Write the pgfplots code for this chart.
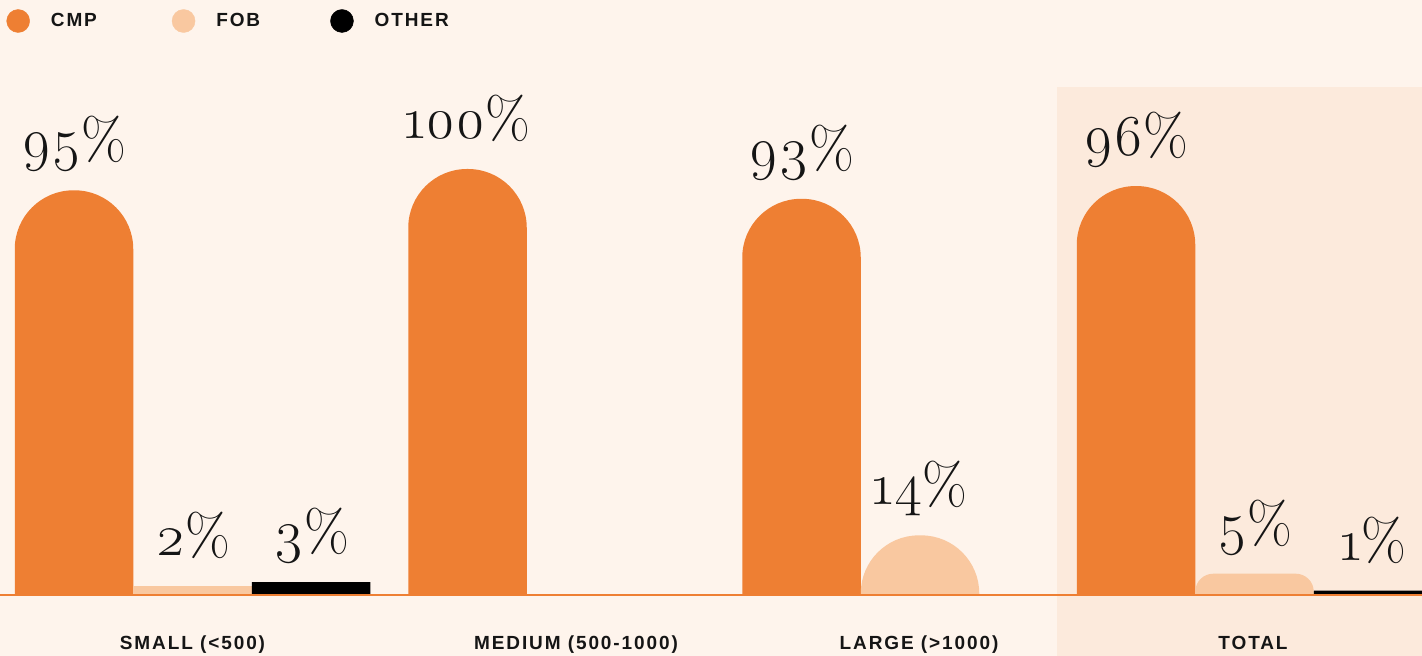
\documentclass[border=0pt]{standalone}
\usepackage{fontspec}
\usepackage{pgfplots}
\usepackage{pgfplotstable}
\pgfplotsset{compat=1.18}
\newfontfamily\valfont{Latin Modern Roman}[Numbers=OldStyle]
\newfontfamily\labfont{Liberation Sans}[LetterSpace=10]
\definecolor{bgcol}{HTML}{FEF4EC}
\definecolor{totcol}{HTML}{FCEADC}
\definecolor{cmp}{HTML}{EE7F33}
\definecolor{fob}{HTML}{F9C8A0}
\definecolor{oth}{HTML}{000000}
\definecolor{ink}{HTML}{151515}

% x = group centre (px), v = share (%)
\pgfplotstableread{
x      v
192.5  95
586    100
920    93
1254.5 96
}\cmpdata
\pgfplotstableread{
x      v
192.5  2
}\fobflat
\pgfplotstableread{
x      v
920    14
}\fobbig
\pgfplotstableread{
x      v
1254.5 5
}\fobsmall
\pgfplotstableread{
x      v
192.5  3
1254.5 1
}\othdata

\tikzset{valstyle/.style={font=\valfont\fontsize{58bp}{60bp}\selectfont, text=ink, anchor=base, yshift=30.5bp, inner sep=0pt, text depth=0pt},
  labfnt/.style={font=\labfont\bfseries\fontsize{19bp}{21bp}\selectfont, text=ink}}

\begin{document}
\begin{tikzpicture}
\useasboundingbox (0bp,-61bp) rectangle (1422bp,595bp);
\fill[bgcol] (0bp,-61bp) rectangle (1422bp,595bp);
\fill[totcol] (1057bp,-61bp) rectangle (1422bp,508bp);
% bars: the axis starts 20 units below the baseline, the part below it is clipped away
\begin{scope}
\clip (0bp,0bp) rectangle (1422bp,595bp);
\begin{axis}[
  at={(0bp,-85.2bp)}, anchor=south west,
  scale only axis, width=1422bp, height=680.2bp,
  xmin=0, xmax=1422, ymin=0, ymax=159.67,
  hide axis, clip=false,
  ybar, bar width=118.5bp,
]
\addplot[fill=cmp, draw=none, bar shift=-118.5bp, rounded corners=58.75bp,
  point meta=explicit symbolic, nodes near coords={\pgfplotspointmeta\%},
  every node near coord/.append style={valstyle}]
  table[x=x, y expr=\thisrow{v}+20, meta=v] {\cmpdata};
\addplot[fill=fob, draw=none, bar shift=0bp,
  point meta=explicit symbolic, nodes near coords={\pgfplotspointmeta\%},
  every node near coord/.append style={valstyle}]
  table[x=x, y expr=\thisrow{v}+20, meta=v] {\fobflat};
\addplot[fill=fob, draw=none, bar shift=0bp, rounded corners=58bp,
  point meta=explicit symbolic, nodes near coords={\pgfplotspointmeta\%},
  every node near coord/.append style={valstyle}]
  table[x=x, y expr=\thisrow{v}+20, meta=v] {\fobbig};
\addplot[fill=fob, draw=none, bar shift=0bp, rounded corners=18bp,
  point meta=explicit symbolic, nodes near coords={\pgfplotspointmeta\%},
  every node near coord/.append style={valstyle}]
  table[x=x, y expr=\thisrow{v}+20, meta=v] {\fobsmall};
\addplot[fill=oth, draw=none, bar shift=118.5bp,
  point meta=explicit symbolic, nodes near coords={\pgfplotspointmeta\%},
  every node near coord/.append style={valstyle}]
  table[x=x, y expr=\thisrow{v}+20, meta=v] {\othdata};
\end{axis}
\end{scope}
% baseline, category labels and legend
\begin{axis}[
  at={(0bp,0bp)}, anchor=south west,
  scale only axis, width=1422bp, height=595bp,
  xmin=0, xmax=1422, ymin=20, ymax=159.67,
  axis y line=none, axis x line*=bottom,
  x axis line style={draw=cmp, line width=1.2bp, -},
  xtick={192.5,576,919,1253},
  xticklabels={SMALL (<500), MEDIUM (500-1000), LARGE (>1000), TOTAL},
  major tick length=0pt,
  xticklabel style={labfnt, anchor=base, yshift=-54bp, inner sep=0pt},
  legend columns=3,
  legend style={at={(0.00457,0.9647)}, anchor=west, draw=none, fill=none,
    inner sep=0pt, outer sep=0pt, labfnt,
    nodes={inner sep=0pt},
    /tikz/every odd column/.append style={column sep=21bp},
    /tikz/every even column/.append style={column sep=17bp}},
  legend cell align=left,
]
\addlegendimage{legend image code/.code={\fill[cmp] (11.5bp,0bp) circle[radius=11.5bp];}}
\addlegendentry{\makebox[104bp][l]{CMP}}
\addlegendimage{legend image code/.code={\fill[fob] (11.5bp,0bp) circle[radius=11.5bp];}}
\addlegendentry{\makebox[97bp][l]{FOB}}
\addlegendimage{legend image code/.code={\fill[oth] (11.5bp,0bp) circle[radius=11.5bp];}}
\addlegendentry{OTHER}
\end{axis}
\end{tikzpicture}
\end{document}
